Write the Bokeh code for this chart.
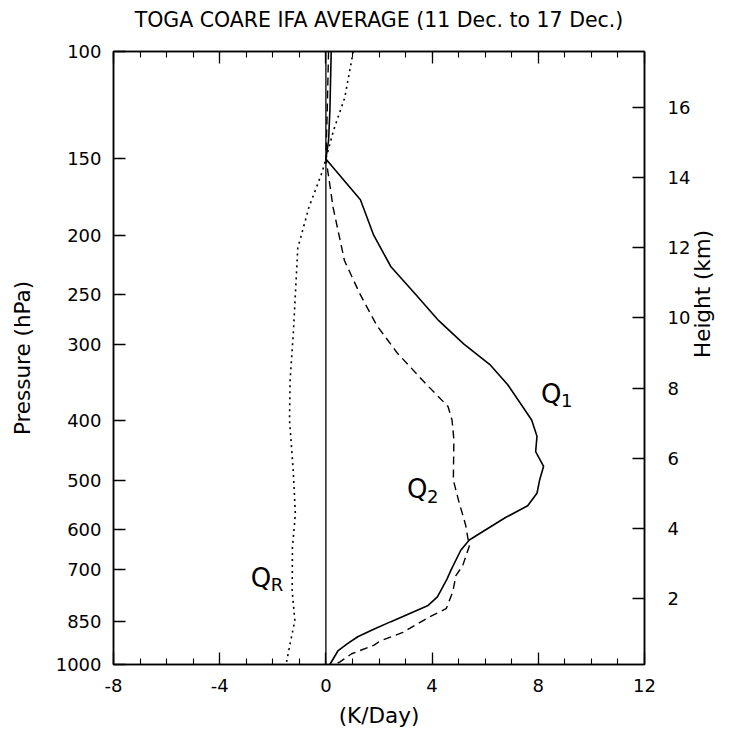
import math
import numpy as np
from bokeh.plotting import figure
from bokeh.models import (Range1d, LinearAxis, FixedTicker, SingleIntervalTicker,
                          Span, ColumnDataSource)
from bokeh.core.properties import value
from bokeh.embed import file_html
from bokeh.resources import INLINE

TITLE = "TOGA COARE IFA AVERAGE (11 Dec. to 17 Dec.)"

# Pressure axis: each labelled level and the height (km) it sits at
pressure_levels = [100, 150, 200, 250, 300, 400, 500, 600, 700, 850, 1000]
level_height_km = [17.58, 14.52, 12.35, 10.65, 9.25, 7.09, 5.38, 3.98, 2.83, 1.35, 0.13]
height_ticks_km = [2, 4, 6, 8, 10, 12, 14, 16]

# Apparent heat source Q1 (K/day)
q1_p = [100, 125, 140, 150, 175, 200, 225, 250, 275, 300, 325, 350, 400, 425, 450,
        475, 500, 525, 550, 575, 625, 650, 700, 725, 775, 800, 850, 875, 900, 925,
        950, 1000]
q1 = [0.2, 0.15, 0.1, 0.0, 1.3, 1.8, 2.45, 3.4, 4.25, 5.2, 6.2, 6.85, 7.75, 7.95, 7.9,
      8.2, 8.05, 7.95, 7.6, 6.75, 5.4, 5.08, 4.72, 4.56, 4.2, 3.85, 2.45, 1.8, 1.2, 0.8,
      0.45, 0.15]

# Apparent moisture sink Q2 (K/day)
q2_p = [100, 125, 150, 160, 180, 220, 250, 280, 310, 350, 380, 400, 430, 500, 540,
        590, 640, 690, 715, 760, 810, 835, 885, 915, 930, 960, 990, 1000]
q2 = [0.1, 0.05, 0.0, 0.1, 0.27, 0.7, 1.3, 1.92, 2.68, 3.8, 4.6, 4.75, 4.82, 4.8, 5.0,
      5.26, 5.4, 5.15, 4.9, 4.78, 4.53, 3.9, 2.9, 2.04, 1.8, 0.97, 0.53, 0.35]

# Radiative heating QR (K/day)
qr_p = [100, 119, 135, 150, 158, 180, 210, 285, 345, 400, 483, 567, 643, 757, 847,
        925, 1000]
qr = [1.03, 0.71, 0.28, 0.0, -0.15, -0.64, -1.06, -1.22, -1.35, -1.37, -1.23, -1.15,
      -1.26, -1.27, -1.17, -1.35, -1.5]

# Curve labels: anchor (K/day, hPa), main letter and subscript
label_x = [8.1, 3.05, -2.83]
label_p = [362, 517, 722]
label_main = ["Q", "Q", "Q"]
label_sub = ["1", "2", "R"]

FONT = "DejaVu Sans"


def to_height(pres):
    """Map pressure (hPa) to the plot's height coordinate (km)."""
    return np.interp(np.log(np.asarray(pres, dtype=float)),
                     np.log(pressure_levels), level_height_km)


h_top = float(to_height([100])[0])
h_bot = float(to_height([1000])[0])

p = figure(width=730, height=733, output_backend="svg", toolbar_location=None,
           x_range=Range1d(-8 - 1e-6, 12 + 1e-6),
           y_range=Range1d(h_bot - 1e-6, h_top + 1e-6),
           x_axis_type=None, y_axis_type=None,
           min_border_left=113, min_border_right=86,
           min_border_top=51, min_border_bottom=69)
p.xgrid.visible = False
p.ygrid.visible = False
p.outline_line_color = "black"
p.outline_line_width = 1.5
p.background_fill_color = "white"
p.border_fill_color = "white"


def style_axis(ax):
    ax.axis_line_color = "black"
    ax.axis_line_width = 1.5
    ax.major_tick_line_color = "black"
    ax.major_tick_line_width = 1.3
    ax.minor_tick_line_color = "black"
    ax.minor_tick_line_width = 1.1
    ax.major_tick_in = 12
    ax.major_tick_out = 0
    ax.minor_tick_in = 6
    ax.minor_tick_out = 0
    ax.major_label_text_font = FONT
    ax.major_label_text_font_size = "18px"
    ax.major_label_text_color = "black"
    ax.axis_label_text_font = FONT
    ax.axis_label_text_font_size = "21.5px"
    ax.axis_label_text_font_style = "normal"
    ax.axis_label_text_color = "black"


# Heating-rate axes: bottom labelled, top carries ticks and the chart title
x_bottom = LinearAxis(ticker=SingleIntervalTicker(interval=4, num_minor_ticks=4),
                      axis_label="(K/Day)")
style_axis(x_bottom)
x_bottom.major_label_standoff = 14
x_bottom.axis_label_standoff = 8
x_bottom.major_label_overrides = {-8: "-8", -4: "-4"}
p.add_layout(x_bottom, "below")

x_top = LinearAxis(ticker=SingleIntervalTicker(interval=4, num_minor_ticks=4),
                   axis_label=TITLE)
style_axis(x_top)
x_top.major_label_text_color = None
x_top.major_label_standoff = 0
x_top.axis_label_text_font_size = "20.5px"
x_top.axis_label_standoff = 20
p.add_layout(x_top, "above")

# Pressure axis on the left
y_left = LinearAxis(ticker=FixedTicker(ticks=list(level_height_km), minor_ticks=[]),
                    axis_label="Pressure (hPa)")
style_axis(y_left)
y_left.major_label_overrides = {h: str(pv) for h, pv in zip(level_height_km, pressure_levels)}
y_left.major_label_standoff = 12
y_left.axis_label_standoff = 18
p.add_layout(y_left, "left")

# Height axis on the right
y_right = LinearAxis(ticker=FixedTicker(ticks=height_ticks_km, minor_ticks=[]),
                     axis_label="Height (km)")
style_axis(y_right)
y_right.major_label_standoff = 23
y_right.axis_label_standoff = 9
y_right.axis_label_orientation = math.pi / 2
p.add_layout(y_right, "right")

# Zero line
p.add_layout(Span(location=0, dimension="height", line_color="black", line_width=1.3))

p.line(x=q1, y=to_height(q1_p), line_color="black", line_width=1.6)
p.line(x=q2, y=to_height(q2_p), line_color="black", line_width=1.4, line_dash="8 5")
p.line(x=qr, y=to_height(qr_p), line_color="black", line_width=1.6, line_dash="2 4")

lab = ColumnDataSource(dict(x=label_x, y=to_height(label_p), main=label_main, sub=label_sub))
p.text(x="x", y="y", text="main", source=lab, text_font=value(FONT),
       text_font_size="26px", text_color="black", text_align="left",
       text_baseline="alphabetic")
p.text(x="x", y="y", text="sub", source=lab, text_font=value(FONT),
       text_font_size="18px", text_color="black", text_align="left",
       text_baseline="alphabetic", x_offset=20, y_offset=7)

open("out.html", "w").write(file_html(p, INLINE))
